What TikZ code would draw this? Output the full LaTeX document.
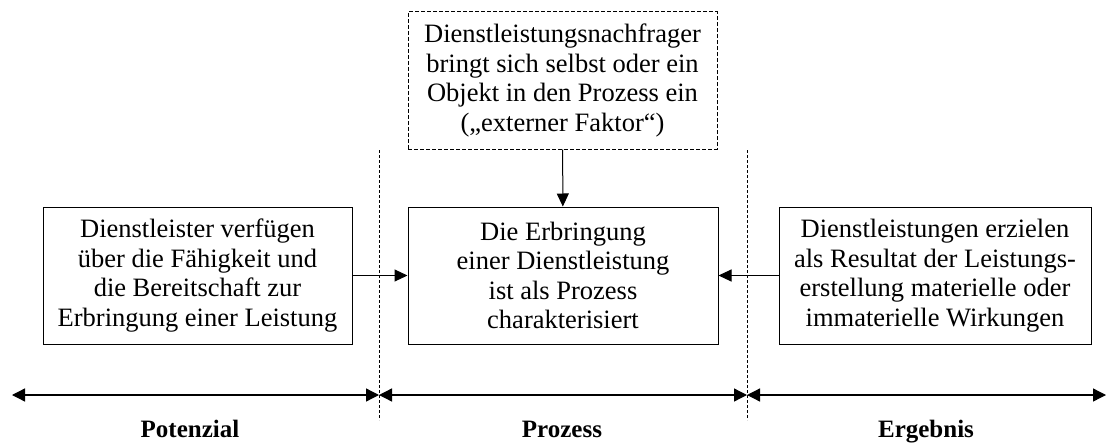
\documentclass[tikz,border=0pt]{standalone}
\usepackage{fontspec}
\setmainfont{Liberation Serif}
\usetikzlibrary{arrows.meta}
\begin{document}
\begin{tikzpicture}[x=1pt,y=-1pt,
    box/.style={draw,line width=1pt,minimum width=309pt,minimum height=137pt,
      align=center,inner sep=0pt,font=\fontsize{26.5}{29.5}\selectfont},
    tip/.style={-{Triangle[length=13pt,width=12pt]}},
    span/.style={{Triangle[length=13pt,width=13pt]}-{Triangle[length=13pt,width=13pt]},line width=1.3pt},
    border/.style={line width=0.8pt,dash pattern=on 3pt off 2pt},
    phase/.style={anchor=base,font=\fontsize{25}{30}\selectfont\bfseries}]
  \useasboundingbox (0,0) rectangle (1106,444);
  % boxes
  \node[box] (L) at (197.5,275.5) {Dienstleister verfügen\\über die Fähigkeit und\\die Bereitschaft zur\\Erbringung einer Leistung};
  \node[box,minimum width=310pt] (M) at (563,275.5) {Die Erbringung\\einer Dienstleistung\\ist als Prozess\\charakterisiert};
  \node[box,minimum width=312pt] (R) at (935,275.5) {Dienstleistungen erzielen\\als Resultat der Leistungs-\\erstellung materielle oder\\immaterielle Wirkungen};
  \node[box,dash pattern=on 4pt off 2pt] (F) at (562.5,80.5) {Dienstleistungsnachfrager\\bringt sich selbst oder ein\\Objekt in den Prozess ein\\(„externer Faktor“)};
  \draw[tip,line width=1pt] (F) -- (M);
  \draw[tip,line width=1pt] (L) -- (M);
  \draw[tip,line width=1pt] (R) -- (M);
  % phase borders
  \coordinate (P1) at (379,150);
  \coordinate (P2) at (747,150);
  \coordinate (Q1) at (379,420);
  \coordinate (Q2) at (747,420);
  \draw[border] (P1) -- (Q1);
  \draw[border] (P2) -- (Q2);
  % time line
  \coordinate (A) at (12,395);
  \coordinate (B) at (379,395);
  \coordinate (C) at (747,395);
  \coordinate (D) at (1106,395);
  \draw[span] (A) -- (B);
  \draw[span] (B) -- (C);
  \draw[span] (C) -- (D);
  \node[phase] (pot) at (190,437) {Potenzial};
  \node[phase] (proz) at (562,437) {Prozess};
  \node[phase] (erg) at (926,437) {Ergebnis};
\end{tikzpicture}
\end{document}
